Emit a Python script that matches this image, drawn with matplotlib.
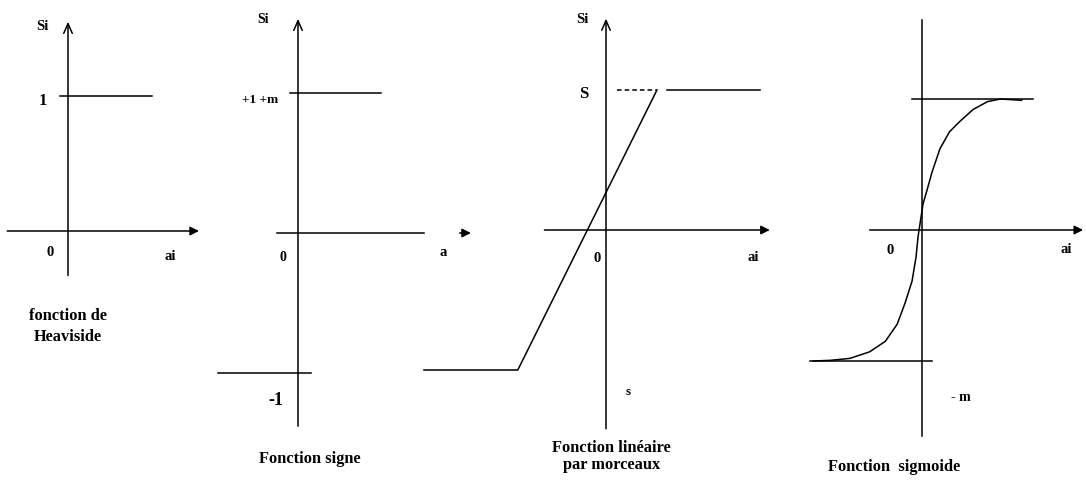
import matplotlib.pyplot as plt

# ---------------- data (function values, in each panel's own units) ----------------
# Heaviside
heav_plateau_x = [-0.06, 0.62]
heav_plateau_y = [1, 1]
heav_xaxis = [-0.45, 0.97]
heav_yaxis = [-0.33, 1.55]

# Sign function
sign_upper_x = [-0.06, 0.59]
sign_upper_y = [1, 1]
sign_lower_x = [-0.57, 0.09]
sign_lower_y = [-1, -1]
sign_xaxis = [-0.15, 0.90]
sign_yaxis = [-1.38, 1.53]

# Piecewise linear
pw_x = [-1.30, -0.63, 0.364]
pw_y = [-1, -1, 1]
pw_dash_x = [0.08, 0.364]
pw_dash_y = [1, 1]
pw_upper_x = [0.436, 1.10]
pw_upper_y = [1, 1]
pw_xaxis = [-0.44, 1.17]
pw_yaxis = [-1.42, 1.51]

# Sigmoid
sig_x = [-0.83, -0.70, -0.55, -0.40, -0.28, -0.19, -0.13, -0.076, -0.046, -0.03,
         0.008, 0.04, 0.076, 0.137, 0.21, 0.29, 0.39, 0.50, 0.60, 0.76]
sig_y = [-1.0, -0.995, -0.98, -0.93, -0.85, -0.72, -0.56, -0.39, -0.21, -0.05,
         0.20, 0.31, 0.44, 0.62, 0.75, 0.83, 0.92, 0.98, 1.0, 0.99]
sig_top_x = [-0.08, 0.85]
sig_bot_x = [-0.855, 0.08]
sig_xaxis = [-0.40, 1.23]
sig_yaxis = [-1.57, 1.60]

# captions
captions = ["fonction de\nHeaviside", "Fonction signe",
            "Fonction linéaire\npar morceaux", "Fonction  sigmoide"]

# ---------------- figure ----------------
W, H = 1086, 481
fig = plt.figure(figsize=(W / 100, H / 100), dpi=100)
fig.patch.set_facecolor("white")
FONT = "Liberation Serif"
LW = 1.1
CAP = 11.8


def panel(ox, oy, s):
    ax = fig.add_axes([0, 0, 1, 1])
    ax.set_xlim(-ox / s, (W - ox) / s)
    ax.set_ylim(-(H - oy) / s, oy / s)
    ax.axis("off")
    ax.patch.set_alpha(0)
    return ax


def haxis(ax, xr, arrow=True):
    if arrow:
        ax.annotate("", xy=(xr[1], 0), xytext=(xr[0], 0), textcoords="data",
                    arrowprops=dict(arrowstyle="-|>", lw=LW, color="k",
                                    mutation_scale=13, shrinkA=0, shrinkB=0))
    else:
        ax.plot(xr, [0, 0], color="k", lw=LW)


def vaxis(ax, yr, arrow=True):
    if arrow:
        ax.annotate("", xy=(0, yr[1]), xytext=(0, yr[0]), textcoords="data",
                    arrowprops=dict(arrowstyle="->,head_length=0.5,head_width=0.22",
                                    lw=LW, color="k", mutation_scale=14,
                                    shrinkA=0, shrinkB=0))
    else:
        ax.plot([0, 0], yr, color="k", lw=LW)


def txt(ax, x, y, s, size=10.5, **kw):
    ax.text(x, y, s, fontsize=size, fontfamily=FONT, fontweight="bold",
            ha="center", va="center", color="k", **kw)


# Panel 1 : Heaviside
ax1 = panel(68, 232, 135)
haxis(ax1, heav_xaxis)
vaxis(ax1, heav_yaxis)
ax1.plot(heav_plateau_x, heav_plateau_y, color="k", lw=LW)
txt(ax1, -0.19, 1.52, "Si", 10.5)
txt(ax1, -0.185, 0.97, "1", 12)
txt(ax1, -0.13, -0.15, "0", 10.5)
txt(ax1, 0.755, -0.185, "ai", 10.5)
txt(ax1, 0.0, -0.70, captions[0], CAP, linespacing=1.35)

# Panel 2 : sign
ax2 = panel(298, 234, 140)
haxis(ax2, sign_xaxis, arrow=False)
ax2.annotate("", xy=(1.235, 0), xytext=(1.155, 0), textcoords="data",
             arrowprops=dict(arrowstyle="-|>", lw=LW, color="k",
                             mutation_scale=13, shrinkA=0, shrinkB=0))
vaxis(ax2, sign_yaxis)
ax2.plot(sign_upper_x, sign_upper_y, color="k", lw=LW)
ax2.plot(sign_lower_x, sign_lower_y, color="k", lw=LW)
txt(ax2, -0.25, 1.53, "Si", 10)
txt(ax2, -0.27, 0.96, "+1 +m", 9.5)
txt(ax2, -0.11, -0.17, "0", 10)
txt(ax2, 1.04, -0.13, "a", 10.5)
txt(ax2, -0.16, -1.19, "-1", 13)
txt(ax2, 0.086, -1.61, captions[1], CAP)

# Panel 3 : piecewise linear
ax3 = panel(606, 231, 140)
haxis(ax3, pw_xaxis)
vaxis(ax3, pw_yaxis)
ax3.plot(pw_x, pw_y, color="k", lw=LW)
ax3.plot(pw_dash_x, pw_dash_y, color="k", lw=LW, ls=(0, (3, 2)))
ax3.plot(pw_upper_x, pw_upper_y, color="k", lw=LW)
txt(ax3, -0.17, 1.51, "Si", 10.5)
txt(ax3, -0.16, 0.98, "S", 12)
txt(ax3, -0.06, -0.20, "0", 10.5)
txt(ax3, 1.05, -0.19, "ai", 10.5)
txt(ax3, 0.16, -1.15, "s", 9.5)
txt(ax3, 0.04, -1.61, captions[2], CAP, linespacing=1.05)

# Panel 4 : sigmoid
ax4 = panel(922, 231, 131)
haxis(ax4, sig_xaxis)
vaxis(ax4, sig_yaxis, arrow=False)
ax4.plot(sig_top_x, [1, 1], color="k", lw=LW)
ax4.plot(sig_bot_x, [-1, -1], color="k", lw=LW)
ax4.plot(sig_x, sig_y, color="k", lw=LW)
txt(ax4, -0.24, -0.15, "0", 10.5)
txt(ax4, 1.10, -0.14, "ai", 10.5)
txt(ax4, 0.30, -1.27, "- m", 10)
txt(ax4, -0.21, -1.80, captions[3], CAP)

fig.savefig("out.png", dpi=100, facecolor="white")
